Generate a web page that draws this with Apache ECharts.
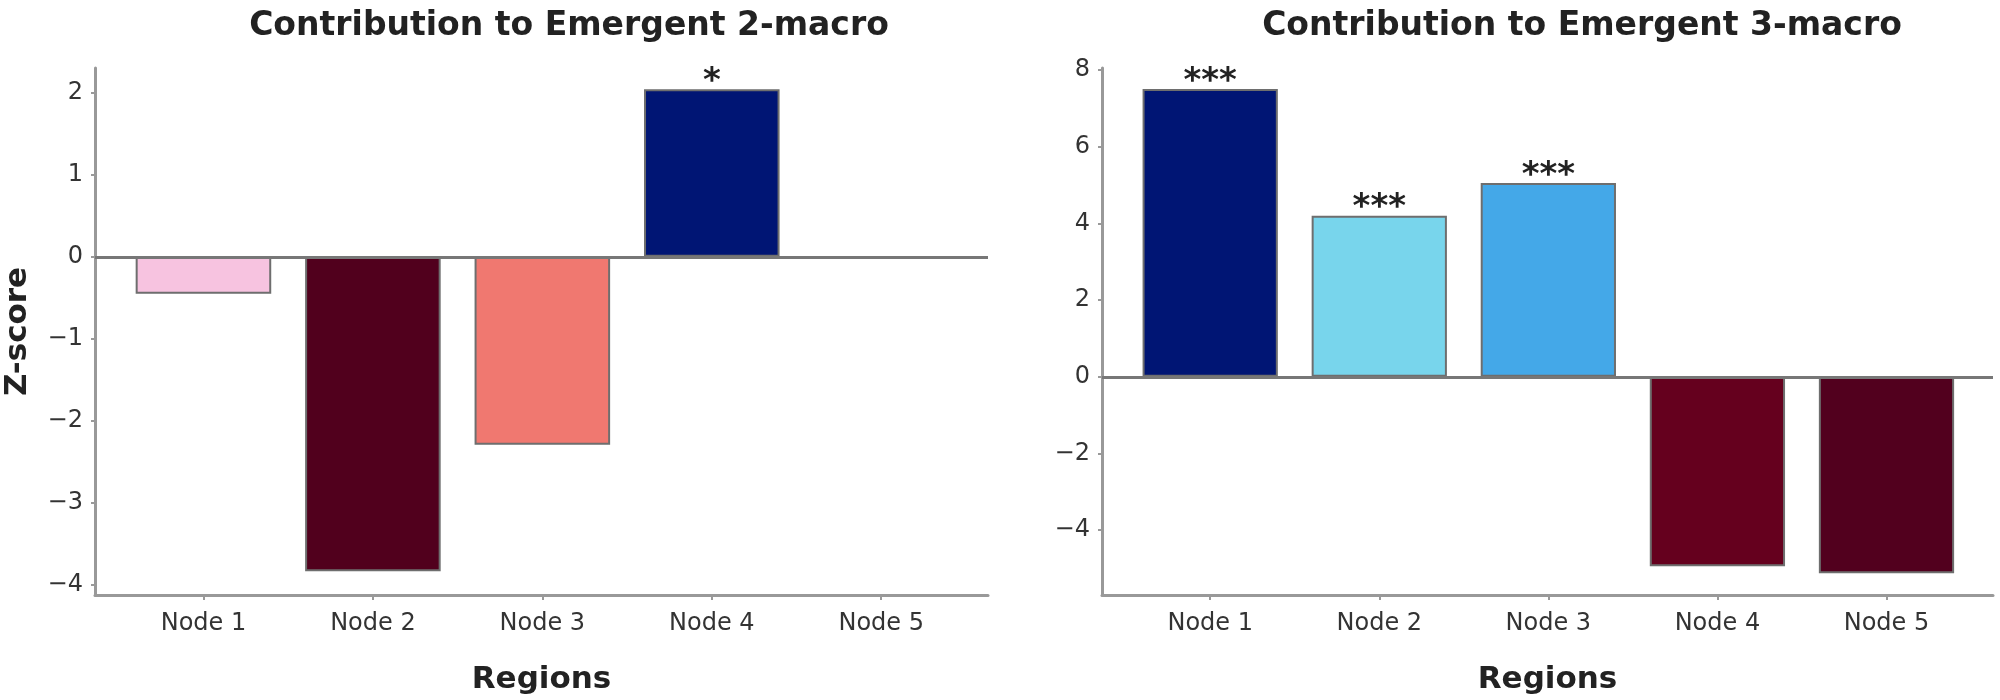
<!DOCTYPE html>
<html>
<head>
<meta charset="utf-8">
<script src="https://cdn.jsdelivr.net/npm/echarts@6/dist/echarts.min.js"></script>
<style>
  html, body { margin: 0; padding: 0; background: #fff; }
  #chart { width: 2000px; height: 700px; }
</style>
</head>
<body>
<div id="chart"></div>
<script>
// ---- data ----
const categories = ['Node 1', 'Node 2', 'Node 3', 'Node 4', 'Node 5'];
const macro2Values = [-0.45, -3.83, -2.29, 2.04, null];
const macro2Sig = ['', '', '', '*', ''];
const macro3Values = [7.5, 4.2, 5.05, -4.94, -5.12];
const macro3Sig = ['***', '***', '***', '', ''];
const macro2Ticks = [-4, -3, -2, -1, 0, 1, 2];
const macro3Ticks = [-4, -2, 0, 2, 4, 6, 8];
const macro2Colors = ['#F7C3E0', '#51001D', '#F07870', '#001574', '#cccccc'];
const macro3Colors = ['#001574', '#78D5EC', '#44A8E8', '#65001E', '#52001E'];

// ---- layout ----
const FONT = 'DejaVu Sans';
const xMin = -0.64, xMax = 4.63;
const grids = [
  { left: 95, top: 68, width: 893, height: 529 },
  { left: 1102, top: 68, width: 891, height: 529 }
];
const yRanges = [[-4.12, 2.30], [-5.69, 8.05]];
const fmtMinus = v => String(v).replace('-', '\u2212');

function xAxisFor(gi) {
  return {
    type: 'value', gridIndex: gi, min: xMin, max: xMax,
    name: 'Regions', nameLocation: 'middle', nameGap: 69,
    nameTextStyle: { fontFamily: FONT, fontWeight: 'bold', fontSize: 31, color: '#222' },
    axisLine: { show: true, onZero: false, lineStyle: { color: '#999', width: 3 } },
    axisTick: { show: true, length: 5, customValues: [0, 1, 2, 3, 4], lineStyle: { color: '#999', width: 2 } },
    axisLabel: {
      customValues: [0, 1, 2, 3, 4], margin: 17,
      formatter: v => categories[Math.round(v)] || '',
      fontFamily: FONT, fontSize: 24, color: '#333'
    },
    splitLine: { show: false }
  };
}
function yAxisFor(gi, ticks, withName) {
  return {
    type: 'value', gridIndex: gi, min: yRanges[gi][0], max: yRanges[gi][1],
    name: withName ? 'Z-score' : '', nameLocation: 'middle', nameGap: 62, nameRotate: 90,
    nameTextStyle: { fontFamily: FONT, fontWeight: 'bold', fontSize: 31, color: '#222' },
    axisLine: { show: true, onZero: false, lineStyle: { color: '#999', width: 3 } },
    axisTick: { show: true, length: 4, customValues: ticks, lineStyle: { color: '#999', width: 2 } },
    axisLabel: { customValues: ticks, margin: 12, formatter: fmtMinus, fontFamily: FONT, fontSize: 24, color: '#333' },
    splitLine: { show: false }
  };
}
function seriesFor(gi, values, sig, colors) {
  const barW = 0.8 * grids[gi].width / (xMax - xMin);
  return {
    type: 'bar', xAxisIndex: gi, yAxisIndex: gi, barWidth: barW,
    data: values.map((v, i) => ({
      value: [i, v],
      itemStyle: { color: colors[i], borderColor: '#6e6e6e', borderWidth: 2 },
      label: { show: !!sig[i], formatter: sig[i] }
    })),
    label: {
      position: 'top', distance: -10, fontFamily: FONT, fontWeight: 'bold', fontSize: 34, color: '#222'
    },
    markLine: {
      silent: true, symbol: ['none', 'none'], label: { show: false },
      lineStyle: { color: '#777', width: 3, type: 'solid' },
      data: [{ yAxis: 0 }]
    },
    animation: false
  };
}

const chart = echarts.init(document.getElementById('chart'), null, { renderer: 'canvas' });
chart.setOption({
  backgroundColor: '#fff',
  animation: false,
  title: [
    { text: 'Contribution to Emergent 2-macro', left: 564, top: 5, textAlign: 'center',
      textStyle: { fontFamily: FONT, fontWeight: 'bold', fontSize: 33, color: '#222' } },
    { text: 'Contribution to Emergent 3-macro', left: 1577, top: 5, textAlign: 'center',
      textStyle: { fontFamily: FONT, fontWeight: 'bold', fontSize: 33, color: '#222' } }
  ],
  grid: grids,
  xAxis: [xAxisFor(0), xAxisFor(1)],
  yAxis: [yAxisFor(0, macro2Ticks, true), yAxisFor(1, macro3Ticks, false)],
  series: [
    seriesFor(0, macro2Values, macro2Sig, macro2Colors),
    seriesFor(1, macro3Values, macro3Sig, macro3Colors)
  ]
});
</script>
</body>
</html>
